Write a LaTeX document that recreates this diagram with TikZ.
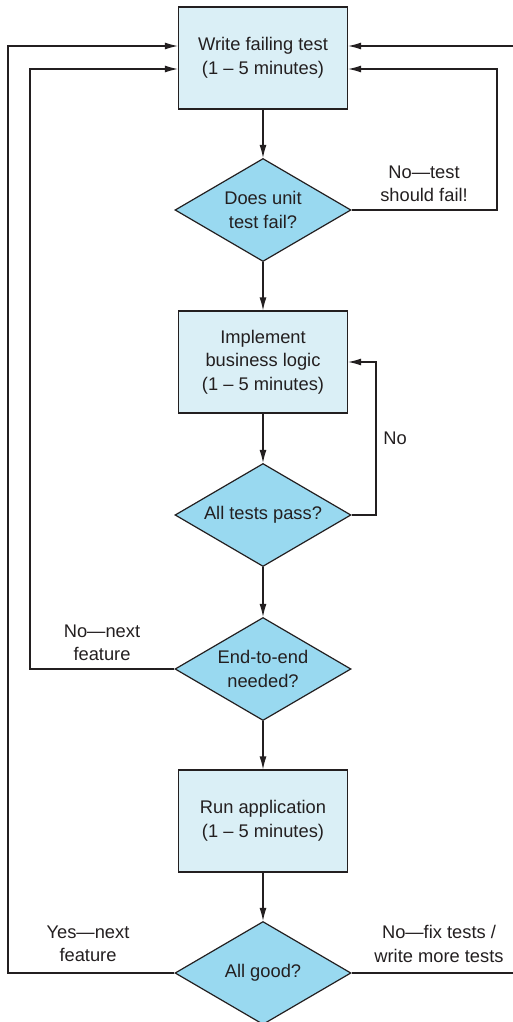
\documentclass[tikz,border=0pt]{standalone}
\usepackage{fontspec}
\setmainfont{Liberation Sans}
\usetikzlibrary{shapes.geometric,arrows.meta}
\definecolor{boxblue}{RGB}{218,239,246}
\definecolor{askblue}{RGB}{153,217,240}
\definecolor{inkgray}{RGB}{35,31,32}
\tikzstyle{stepbox}=[rectangle,draw=inkgray,fill=boxblue,line width=1.2pt,
                     inner sep=0pt,minimum width=169pt,minimum height=102pt,
                     align=center,text=inkgray]
\tikzstyle{askdiamond}=[diamond,aspect=1.7,draw=inkgray,fill=askblue,
                     line width=1.2pt,inner sep=0pt,minimum width=176pt,
                     minimum height=103pt,align=center,text=inkgray]
\tikzstyle{flowline}=[draw=inkgray,line width=1.2pt,
                      -{Latex[length=13pt,width=7pt]}]
\tikzstyle{edgetext}=[align=center,text=inkgray]

\begin{document}
\begin{tikzpicture}[x=1pt,y=-1pt,font=\fontsize{18.3}{23.5}\selectfont]
    \newcommand{\colx}{263}
    \useasboundingbox (0,0) rectangle (513,1022);
    % steps and questions
    \node (b1) at (\colx,  58) [stepbox]{Write failing test\\(1 – 5 minutes)};
    \node (d1) at (\colx, 210) [askdiamond]{Does unit\\test fail?};
    \node (b2) at (\colx, 362) [stepbox]{Implement\\business logic\\(1 – 5 minutes)};
    \node (d2) at (\colx, 515) [askdiamond]{All tests pass?};
    \node (d3) at (\colx, 669) [askdiamond]{End-to-end\\needed?};
    \node (b3) at (\colx, 821) [stepbox]{Run application\\(1 – 5 minutes)};
    \node (d4) at (\colx, 973) [askdiamond]{All good?};
    % turning points of the loops
    \coordinate (k1) at (497,  69);
    \coordinate (k2) at (376, 362);
    \coordinate (k3) at ( 30,  69);
    \coordinate (k4) at (  8,  46);
    \coordinate (k5) at (520,  46);
    % main flow
    \draw[flowline] (b1) -- (d1);
    \draw[flowline] (d1) -- (b2);
    \draw[flowline] (b2) -- (d2);
    \draw[flowline] (d2) -- (d3);
    \draw[flowline] (d3) -- (b3);
    \draw[flowline] (b3) -- (d4);
    % loops back
    \draw[flowline] (d1.east) -| (k1) -- (k1 -| b1.east);
    \draw[flowline] (d2.east) -| (k2) -- (k2 -| b2.east);
    \draw[flowline] (d3.west) -| (k3) -- (k3 -| b1.west);
    \draw[flowline] (d4.west) -| (k4) -- (k4 -| b1.west);
    \draw[flowline] (d4.east) -| (k5) -- (k5 -| b1.east);
    % labels
    \node (l1) at (424, 184) [edgetext]{No—test\\should fail!};
    \node (l2) at (395, 438) [edgetext]{No};
    \node (l3) at (102, 643) [edgetext]{No—next\\feature};
    \node (l4) at ( 88, 944) [edgetext]{Yes—next\\feature};
    \node (l5) at (439, 944) [edgetext]{No—fix tests /\\write more tests};
\end{tikzpicture}
\end{document}
